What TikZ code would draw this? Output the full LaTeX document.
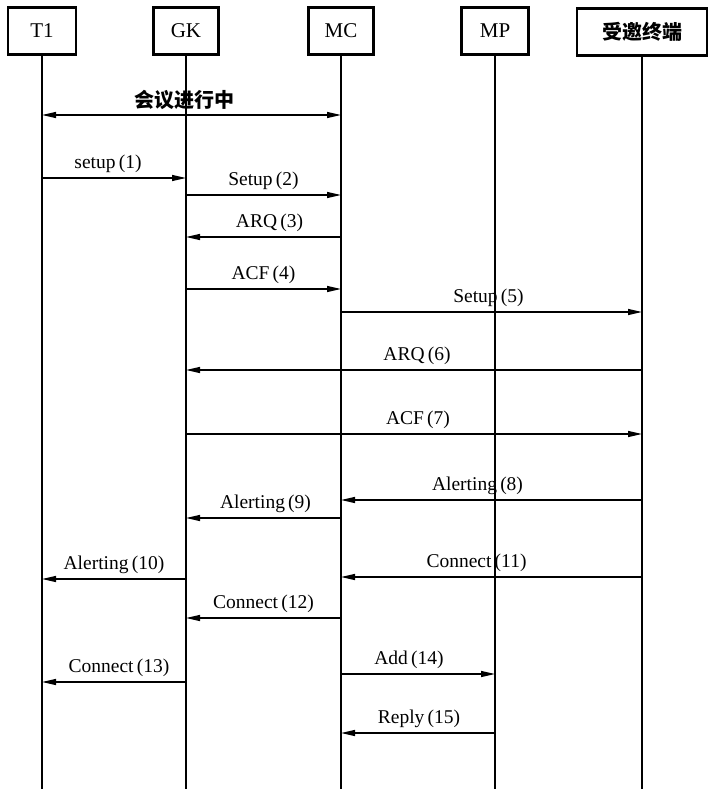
\documentclass[tikz,border=0pt]{standalone}
\usepackage{fontspec}
\setmainfont{Liberation Serif}
\newfontfamily\cjk{Noto Sans CJK SC}
\usetikzlibrary{arrows.meta,positioning}

\begin{document}
\begin{tikzpicture}[x=1pt, y=-1pt, >={Triangle[length=14pt,width=6pt]},
  actor/.style={draw, line width=2.2pt, minimum height=47pt, inner sep=0pt, font=\fontsize{21}{24}\selectfont},
  life/.style={line width=2.2pt},
  msg/.style={->, line width=1.3pt},
  lbl/.style={anchor=base, yshift=10pt, inner sep=0pt, font=\fontsize{19.5}{22}\selectfont}
]
\useasboundingbox (0,0) rectangle (710,789);
\coordinate (bottom) at (0,789);

% participants
\node[actor, minimum width=68pt] (t1) at (42,31) {T1};
\node[actor, minimum width=65pt] (gk) at (186,31) {GK};
\node[actor, minimum width=65pt] (mc) at (341,31) {MC};
\node[actor, minimum width=67pt] (mp) at (495,31) {MP};
\node[actor, minimum width=130pt, font=\cjk\bfseries\fontsize{20}{22}\selectfont] (ue) at (642,32) {受邀终端};

\foreach \n in {t1,gk,mc,mp,ue}
  \draw[life] (\n.south) -- (\n |- bottom);

% conference already running
\coordinate (r0) at (0,115);
\draw[msg, <->] (t1 |- r0) -- node[lbl, yshift=-2pt, xshift=-7, font=\cjk\bfseries\fontsize{20}{22}\selectfont] {会议进行中} (mc |- r0);

% messages
\foreach \a/\b/\y/\t/\k/\dx in {
  t1/gk/178/setup/1/-6,
  gk/mc/195/Setup/2/0,
  mc/gk/237/ARQ/3/6,
  gk/mc/289/ACF/4/0,
  mc/ue/312/Setup/5/-3,
  ue/gk/370/ARQ/6/3,
  gk/ue/434/ACF/7/4,
  ue/mc/500/Alerting/8/-14,
  mc/gk/518/Alerting/9/2,
  gk/t1/579/Alerting/10/0,
  ue/mc/577/Connect/11/-15,
  mc/gk/618/Connect/12/0,
  gk/t1/682/Connect/13/5,
  mc/mp/674/Add/14/-9,
  mp/mc/733/Reply/15/1}
{
  \coordinate (r\k) at (0,\y);
  \draw[msg] (\a |- r\k) -- node[lbl, xshift=\dx] {\t\,(\k)} (\b |- r\k);
}
\end{tikzpicture}
\end{document}
